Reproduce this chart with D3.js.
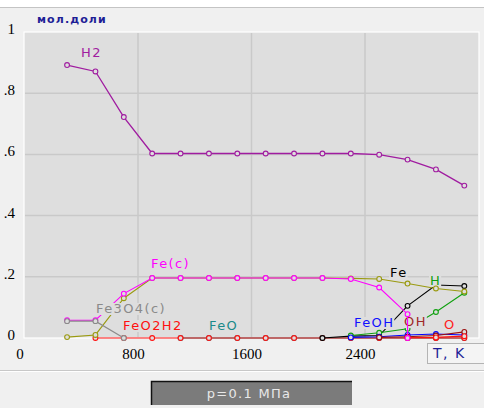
<!DOCTYPE html>
<html>
<head>
<meta charset="utf-8">
<script src="https://cdn.jsdelivr.net/npm/d3@7"></script>
<style>
  body { margin: 0; background: #f0f0f0; }
  svg { display: block; }
</style>
</head>
<body>
<div id="graph"></div>
<script>
// temperatures, K
var temps = [300, 500, 700, 900, 1100, 1300, 1500, 1700, 1900, 2100, 2300, 2500, 2700, 2900, 3100];

// mole fractions
var h2    = [0.892, 0.871, 0.722, 0.603, 0.603, 0.603, 0.603, 0.603, 0.603, 0.603, 0.603, 0.599, 0.583, 0.551, 0.498];
var feCT  = [300, 500, 700, 900, 1100, 1300, 1500, 1700, 1900, 2100, 2300, 2500, 2700, 2700];
var feC   = [0.058, 0.058, 0.145, 0.196, 0.196, 0.196, 0.196, 0.196, 0.196, 0.196, 0.193, 0.165, 0.078, 0];
var olive = [0.003, 0.01, 0.13, 0.196, 0.196, 0.196, 0.196, 0.196, 0.196, 0.196, 0.195, 0.193, 0.178, 0.162, 0.152];
var fe3o4T = [300, 500, 700];
var fe3o4  = [0.055, 0.055, 0];
var feo2h2T = [500, 700, 900, 1100, 1300, 1500, 1700, 1900, 2100, 2300, 2500, 2700, 2900, 3100];
var feo2h2  = [0, 0, 0, 0, 0, 0, 0, 0, 0, 0, 0, 0, 0, 0];
var feoT = [1100, 1300, 1500, 1700, 1900, 2100, 2300, 2500, 2700, 2900, 3100];
var feo  = [0, 0, 0, 0, 0, 0, 0, 0, 0, 0, 0];
var feT  = [2100, 2300, 2500, 2700, 2900, 3100];
var fe   = [0, 0.006, 0.008, 0.105, 0.173, 0.170];
var hT   = [2300, 2500, 2700, 2900, 3100];
var h    = [0.008, 0.017, 0.03, 0.085, 0.148];
var feohT = [2300, 2500, 2700, 2900, 3100];
var feoh  = [0.002, 0.004, 0.01, 0.013, 0.01];
var ohT  = [2500, 2700, 2900, 3100];
var oh   = [0.002, 0.004, 0.008, 0.02];
var oT   = [2700, 2900, 3100];
var o    = [0.001, 0.002, 0.006];

var xTicks = [0, 800, 1600, 2400];
var yTicks = [0, 0.2, 0.4, 0.6, 0.8, 1];
var yTickLabels = ["0", ".2", ".4", ".6", ".8", "1"];

var W = 484, H = 408;
var plot = { left: 24, top: 32, right: 479, bottom: 338 };
var plotBg = "#dedede";

var xScale = d3.scaleLinear().domain([0, 3200]).range([24.5, 478.5]);
var yScale = d3.scaleLinear().domain([0, 1]).range([338, 32]);

var svg = d3.select("#graph").append("svg")
  .attr("width", W).attr("height", H);

// window-ish background
svg.append("rect").attr("width", W).attr("height", H).attr("fill", "#f0f0f0");
svg.append("rect").attr("width", W).attr("height", 7).attr("fill", "#ffffff");
svg.append("line").attr("x1", 0).attr("x2", W).attr("y1", 7.5).attr("y2", 7.5)
  .attr("stroke", "#c4c4c4");

// plot area
svg.append("rect")
  .attr("x", plot.left).attr("y", plot.top)
  .attr("width", plot.right - plot.left).attr("height", plot.bottom - plot.top)
  .attr("fill", plotBg).attr("stroke", "#ffffff").attr("stroke-width", 1.2);

// grid
svg.selectAll(".hgrid").data(yTicks.slice(1, 5)).enter().append("line")
  .attr("class", "hgrid")
  .attr("x1", plot.left + 1).attr("x2", plot.right - 1)
  .attr("y1", function (d) { return yScale(d); })
  .attr("y2", function (d) { return yScale(d); })
  .attr("stroke", "#c9c9c9").attr("stroke-width", 1.5);
svg.selectAll(".vgrid").data(xTicks.slice(1)).enter().append("line")
  .attr("class", "vgrid")
  .attr("y1", plot.top + 1).attr("y2", plot.bottom - 1)
  .attr("x1", function (d) { return xScale(d); })
  .attr("x2", function (d) { return xScale(d); })
  .attr("stroke", "#c9c9c9").attr("stroke-width", 1.5);

// axes (labels only)
var yAxis = svg.append("g").attr("transform", "translate(15,0)")
  .call(d3.axisLeft(yScale).tickValues(yTicks)
    .tickFormat(function (d, i) { return yTickLabels[i]; })
    .tickSize(0).tickPadding(0));
var xAxis = svg.append("g").attr("transform", "translate(-5," + plot.bottom + ")")
  .call(d3.axisBottom(xScale).tickValues(xTicks)
    .tickFormat(d3.format("d")).tickSize(0).tickPadding(10));
[yAxis, xAxis].forEach(function (a) {
  a.select(".domain").remove();
  a.selectAll("text").attr("font-family", "Liberation Serif, serif")
    .attr("font-size", 15).attr("fill", "#000");
});
yAxis.selectAll("text").attr("dy", "0.1em");

svg.append("text").attr("x", 37).attr("y", 23)
  .attr("font-family", "DejaVu Sans, sans-serif").attr("font-size", 11)
  .attr("font-weight", "bold").attr("letter-spacing", 1.1)
  .attr("fill", "#1e1e96").text("мол.доли");

var line = d3.line()
  .x(function (d) { return xScale(d[0]); })
  .y(function (d) { return yScale(d[1]); });

function drawSeries(ts, vs, color, width) {
  var pts = ts.map(function (t, i) { return [t, vs[i]]; });
  svg.append("path").datum(pts)
    .attr("fill", "none").attr("stroke", color)
    .attr("stroke-width", width || 1.1).attr("d", line);
  svg.append("g").selectAll("circle").data(pts).enter().append("circle")
    .attr("cx", function (d) { return xScale(d[0]); })
    .attr("cy", function (d) { return yScale(d[1]); })
    .attr("r", 2.4).attr("fill", plotBg).attr("stroke", color)
    .attr("stroke-width", 1.1);
}

// labels sit on boxes of the plot colour, hiding lines drawn before them
function drawLabel(txt, x, y, color) {
  var g = svg.append("g");
  var r = g.append("rect").attr("fill", plotBg);
  var t = g.append("text").attr("x", x).attr("y", y)
    .attr("font-family", "DejaVu Sans, sans-serif").attr("font-size", 13)
    .attr("letter-spacing", 1.4).attr("fill", color).text(txt);
  var b = t.node().getBBox();
  r.attr("x", b.x - 1).attr("y", b.y + 2).attr("width", b.width + 1).attr("height", b.height - 3);
}

drawSeries(feoT, feo, "#008a8a");
drawSeries(feo2h2T, feo2h2, "#ff1010");
drawSeries(feT, fe, "#000000");
drawSeries(hT, h, "#10a010");
drawSeries(feohT, feoh, "#0000ff");
drawSeries(ohT, oh, "#9a1010");
drawSeries(oT, o, "#ff1010");
drawLabel("Fe", 390, 277, "#000000");
drawLabel("H", 430, 285, "#10a010");
drawLabel("FeOH", 354, 327, "#1010ff");
drawLabel("OH", 404, 326, "#a02828");
drawLabel("O", 444, 329, "#ff2020");
drawLabel("FeO", 209, 330, "#1a8a8a");

drawSeries(temps, olive, "#9a9a10");
drawSeries(feCT, feC, "#ff00ff");
drawSeries(fe3o4T, fe3o4, "#8a8a8a");
drawLabel("Fe3O4(c)", 96, 313, "#8a8a8a");
drawLabel("FeO2H2", 123, 330, "#ff1010");
drawLabel("Fe(c)", 151, 268, "#ff00ff");

drawSeries(temps, h2, "#a01ca0", 1.3);
drawLabel("H2", 81, 57, "#a01ca0");

// T, K box
svg.append("rect").attr("x", 427.5).attr("y", 343.5).attr("width", 60).attr("height", 20)
  .attr("fill", "#f4f4f4").attr("stroke", "#b4b4b4");
svg.append("text").attr("x", 433).attr("y", 358)
  .attr("font-family", "DejaVu Sans, sans-serif").attr("font-size", 14)
  .attr("letter-spacing", 1.5).attr("fill", "#1e1e96").text("T, K");

// bottom separator and pressure box
svg.append("line").attr("x1", 0).attr("x2", W).attr("y1", 370.5).attr("y2", 370.5)
  .attr("stroke", "#c8c8c8");
svg.append("line").attr("x1", 0).attr("x2", W).attr("y1", 371.5).attr("y2", 371.5)
  .attr("stroke", "#ffffff");
svg.append("rect").attr("x", 151).attr("y", 381).attr("width", 201).attr("height", 24)
  .attr("fill", "#7b7b7b");
svg.append("path").attr("d", "M151.5,405V381.5H352")
  .attr("fill", "none").attr("stroke", "#111").attr("stroke-width", 1.5);
svg.append("text").attr("x", 249).attr("y", 398).attr("text-anchor", "middle")
  .attr("font-family", "DejaVu Sans, sans-serif").attr("font-size", 13)
  .attr("letter-spacing", 1.3).attr("fill", "#e8e8e8").text("p=0.1 МПа");
</script>
</body>
</html>
